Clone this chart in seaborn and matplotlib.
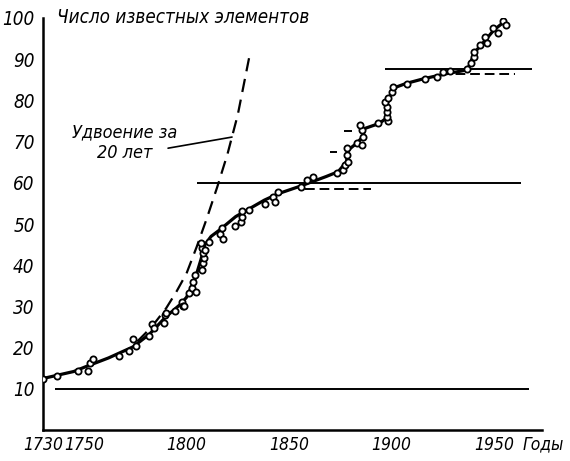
import matplotlib
matplotlib.use("Agg")
import matplotlib.pyplot as plt
import matplotlib.transforms as mtransforms
from matplotlib import font_manager
import seaborn as sns
import pandas as pd

# Discovered elements: observed counts by year of discovery
obs_years = [1730, 1737, 1747, 1751.8, 1753, 1754.5, 1767, 1772, 1774, 1775.5,
             1781.5, 1783, 1784, 1789, 1789.5, 1790, 1794.4, 1797.7, 1798.4, 1798.8,
             1801.4, 1802.5, 1803.3, 1804.1, 1804.6, 1807.4, 1807.9, 1808.5, 1808.2, 1807.4,
             1806.9, 1809, 1811, 1816.3, 1817.7, 1817.2, 1823.7, 1826.4, 1827, 1827,
             1830.7, 1838.3, 1842, 1843.2, 1844.5, 1856, 1858.6, 1861.8, 1873.6, 1876.5,
             1877.3, 1879, 1878.2, 1878.5, 1883, 1885.5, 1886.2, 1885.5, 1884.6, 1893.6,
             1898.4, 1897.6, 1897.6, 1897.6, 1896.8, 1898.4, 1900.1, 1900.6, 1907.4, 1916.3,
             1922.3, 1925.3, 1928.5, 1937, 1938.6, 1940, 1940.2, 1943.2, 1945.6, 1946.4,
             1949.7, 1952, 1954.5, 1955.8]
obs_counts = [12.5, 13, 14.4, 14.2, 16.2, 17.2, 18, 19.2, 22.2, 20.5,
              22.7, 25.8, 24.8, 26, 27.9, 28.5, 29, 31.1, 30.1, 30,
              33.2, 34.4, 36, 37.6, 33.6, 38.8, 40.5, 41.7, 42.9, 44.1,
              45.3, 43.7, 45.7, 47.6, 46.3, 49, 49.4, 50.4, 51.6, 53.1,
              53.4, 54.8, 56.6, 55.4, 57.7, 58.9, 60.7, 61.3, 62.3, 63.1,
              64.3, 65.1, 66.7, 68.4, 69.6, 69.2, 71.2, 72.8, 74, 74.6,
              74.9, 76, 77.3, 78.5, 79.7, 80.5, 82.1, 83.3, 84, 85.2,
              85.8, 86.8, 87.1, 87.5, 89, 90.6, 91.8, 93.4, 95.5, 94,
              97.5, 96.3, 99.2, 98.3]

# Smoothed growth curve through the observations
fit_years = [1730, 1745, 1751, 1762, 1774, 1782, 1790, 1797, 1800, 1804,
             1807, 1809, 1812, 1816, 1824, 1831, 1838, 1845, 1855, 1868,
             1874, 1878, 1879, 1883, 1886, 1887, 1894, 1897.5, 1898, 1900,
             1901, 1907, 1916, 1927, 1937, 1939, 1941.5, 1945, 1950, 1955]
fit_counts = [12.5, 14.2, 15.4, 17.5, 20.2, 23.3, 27.5, 30.5, 32.2, 36.4,
              41.3, 45, 47, 48.5, 51.8, 53.8, 55.8, 57.4, 59.1, 61.5,
              62.7, 65.1, 68, 69.6, 71.2, 73.2, 74.4, 75.7, 79.3, 82.1,
              83, 84.1, 85.3, 86.5, 87.4, 89.8, 92.2, 94.2, 97.1, 99.1]

# Exponential growth curve ("doubling in 20 years")
exp_years = [1776, 1780, 1785, 1790, 1795, 1800, 1805, 1810, 1815, 1820, 1825, 1831]
exp_counts = [21.5, 23.5, 26.3, 29.5, 33.5, 38, 44.5, 51.5, 59, 67, 76.5, 91.5]

# Saturation levels (solid) and their asymptotes (dashed)
level_values = [10, 60, 87.5]
level_starts = [1736, 1805, 1897]
level_ends = [1967, 1963, 1968.5]
asym_values = [58.5, 86.3, 67.5, 72.5]
asym_starts = [1858, 1924, 1870, 1877]
asym_ends = [1890, 1960, 1873.5, 1880.5]

x_major = [1750, 1800, 1850, 1900, 1950]
x_minor = [1740, 1760, 1770, 1780, 1790, 1810, 1820, 1830, 1840, 1860,
           1870, 1880, 1890, 1910, 1920, 1930, 1940, 1960]
y_ticks = [10, 20, 30, 40, 50, 60, 70, 80, 90, 100]

sns.set_style("white")

# prefer a narrow face when one is installed
narrow = None
for f in font_manager.fontManager.ttflist:
    tag = (f.name + " " + f.fname).lower()
    if "narrow" in tag or "condensed" in tag:
        narrow = f
        break
if narrow is not None and ("narrow" in narrow.name.lower() or "condensed" in narrow.name.lower()):
    face, stretch = narrow.name, "normal"
elif narrow is not None:
    face, stretch = narrow.name, "condensed"
else:
    face, stretch = "DejaVu Sans", "normal"
plt.rcParams["font.family"] = [face, "DejaVu Sans"]
plt.rcParams["font.style"] = "italic"
plt.rcParams["font.stretch"] = stretch

fig = plt.figure(figsize=(5.70, 4.61), dpi=100)
ax = fig.add_axes([43 / 570, 31 / 461, 499 / 570, 412 / 461])

ink = "black"

# reference levels
for v, a, b in zip(level_values, level_starts, level_ends):
    ax.hlines(v, a, b, color=ink, lw=1.4)
for v, a, b in zip(asym_values, asym_starts, asym_ends):
    ax.hlines(v, a, b, color=ink, lw=1.4, linestyles=(0, (5, 2.5)))

fit_df = pd.DataFrame({"year": fit_years, "count": fit_counts})
sns.lineplot(data=fit_df, x="year", y="count", ax=ax, color=ink, lw=2.3,
             estimator=None, sort=False)

exp_df = pd.DataFrame({"year": exp_years, "count": exp_counts})
sns.lineplot(data=exp_df, x="year", y="count", ax=ax, color=ink, lw=1.6,
             estimator=None, sort=False, dashes=False, linestyle=(0, (6, 3.5)))

obs_df = pd.DataFrame({"year": obs_years, "count": obs_counts})
sns.scatterplot(data=obs_df, x="year", y="count", ax=ax, marker="o", s=20,
                facecolor="white", edgecolor=ink, linewidth=1.3, zorder=5)

ax.set_xlim(1730, 1973.4)
ax.set_ylim(0, 100)
ax.set_xlabel("")
ax.set_ylabel("")

for side in ("top", "right"):
    ax.spines[side].set_visible(False)
for side in ("left", "bottom"):
    ax.spines[side].set_linewidth(1.8)
    ax.spines[side].set_color(ink)

ax.set_xticks([1730] + x_major)
ax.set_xticklabels(["1730"] + [str(v) for v in x_major])
ax.set_xticks(x_minor, minor=True)
ax.set_yticks(y_ticks)
ax.set_yticklabels([str(v) for v in y_ticks])

for lab in ax.get_xticklabels():
    lab.set_fontsize(12.5)
    lab.set_fontstyle("italic")
for lab in ax.get_yticklabels():
    lab.set_fontsize(13.5)
    lab.set_fontstyle("italic")
ax.tick_params(axis="x", which="major", direction="in", length=7, width=1.6,
               pad=4, colors=ink)
ax.tick_params(axis="x", which="minor", direction="in", length=3.5, width=1.2,
               colors=ink)
ax.tick_params(axis="y", which="major", direction="in", length=6, width=1.6,
               pad=6, colors=ink)
ax.xaxis.get_major_ticks()[0].tick1line.set_visible(False)

ax.text(1737, 100, "Число известных элементов", fontsize=13.5, fontstyle="italic",
        ha="left", va="center", color=ink)
trans = mtransforms.blended_transform_factory(ax.transData, ax.transAxes)
ax.text(1964, -0.036, "Годы", transform=trans, fontsize=12.5, fontstyle="italic",
        ha="left", va="center", color=ink)

ax.text(1770, 72.3, "Удвоение за", fontsize=13, fontstyle="italic",
        ha="center", va="center", color=ink)
ax.text(1770, 67.2, "20 лет", fontsize=13, fontstyle="italic",
        ha="center", va="center", color=ink)
ax.plot([1791, 1822.2], [68.4, 71.1], color=ink, lw=1.2)

fig.savefig("out.png", dpi=100)
